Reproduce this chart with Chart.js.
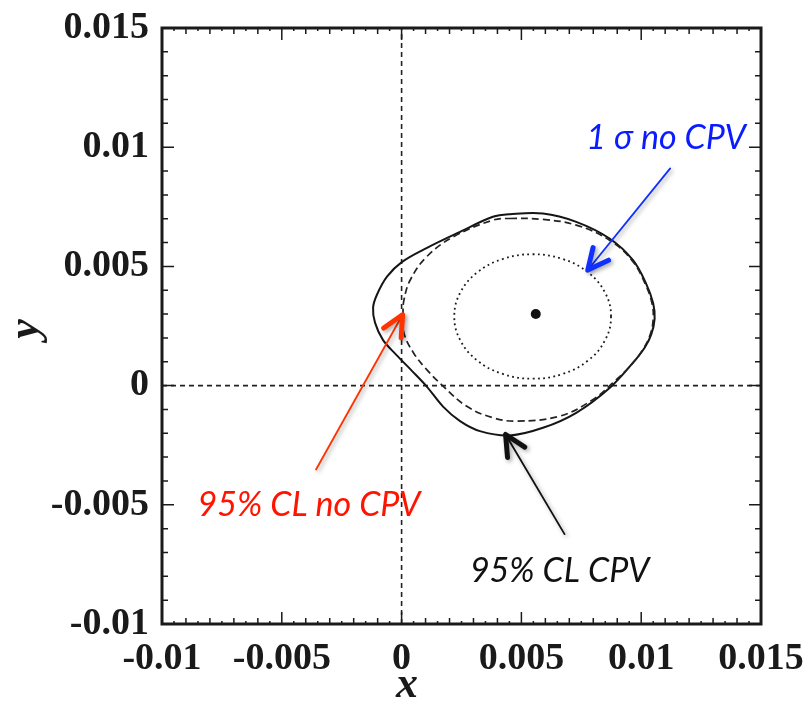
<!DOCTYPE html>
<html>
<head>
<meta charset="utf-8">
<script src="https://cdn.jsdelivr.net/npm/chart.js@4.4.1/dist/chart.umd.min.js"></script>
<style>
  html, body { margin: 0; padding: 0; background: #fff; }
  #wrap { width: 808px; height: 727px; }
</style>
</head>
<body>
<div id="wrap"><canvas id="myChart" width="808" height="727"></canvas></div>
<script>
// axis ticks
const xTicks = [-0.01, -0.005, 0, 0.005, 0.01, 0.015];
const xTickLabels = ['-0.01', '-0.005', '0', '0.005', '0.01', '0.015'];
const yTicks = [-0.01, -0.005, 0, 0.005, 0.01, 0.015];
const yTickLabels = ['-0.01', '-0.005', '0', '0.005', '0.01', '0.015'];

// 95% CL contour with CPV (solid)
const cpvX = [0.00452, 0.00590, 0.00729, 0.00868, 0.00965, 0.01020, 0.01050, 0.01056, 0.01042, 0.01015,
              0.00965, 0.00868, 0.00729, 0.00590, 0.00452, 0.00327, 0.00244, 0.00173, 0.00106, 0.00043,
              -0.00023, -0.00078, -0.00111, -0.00119, -0.00103, -0.00061, 0.00002, 0.00106, 0.00244, 0.00381];
const cpvY = [0.00719, 0.00722, 0.00687, 0.00617, 0.00527, 0.00429, 0.00345, 0.00280, 0.00215, 0.00160,
              0.00095, -0.00010, -0.00114, -0.00177, -0.00209, -0.00191, -0.00149, -0.00088, -0.00005, 0.00062,
              0.00130, 0.00192, 0.00264, 0.00327, 0.00381, 0.00457, 0.00519, 0.00578, 0.00645, 0.00708];

// 95% CL contour, no CPV (dashed)
const noCpvX = [0.00452, 0.00590, 0.00729, 0.00868, 0.00963, 0.01017, 0.01045, 0.01050, 0.01038, 0.01012,
                0.00963, 0.00881, 0.00798, 0.00660, 0.00480, 0.00382, 0.00272, 0.00174, 0.00105, 0.00050,
                0.00010, 0.00006, 0.00010, 0.00036, 0.00105, 0.00216, 0.00381];
const noCpvY = [0.00701, 0.00697, 0.00673, 0.00610, 0.00523, 0.00426, 0.00345, 0.00280, 0.00215, 0.00160,
                0.00092, 0.00011, -0.00059, -0.00128, -0.00149, -0.00135, -0.00087, -0.00003, 0.00067, 0.00137,
                0.00220, 0.00304, 0.00360, 0.00443, 0.00541, 0.00624, 0.00694];

// 1 sigma contour, no CPV (dotted)
const sigmaX = [0.00874, 0.00849, 0.00778, 0.00672, 0.00547, 0.00422, 0.00316, 0.00245,
                0.00220, 0.00245, 0.00316, 0.00422, 0.00547, 0.00672, 0.00778, 0.00849];
const sigmaY = [0.00290, 0.00390, 0.00475, 0.00531, 0.00551, 0.00531, 0.00475, 0.00390,
                0.00290, 0.00190, 0.00105, 0.00049, 0.00029, 0.00049, 0.00105, 0.00190];

// best fit
const bestX = [0.0056];
const bestY = [0.0030];

// arrows (tail -> tip) and their notes
const arrowFromX = [0.01121, -0.00357, 0.00680];
const arrowFromY = [0.00911, -0.00352, -0.00623];
const arrowToX = [0.00777, 0.00004, 0.00434];
const arrowToY = [0.00485, 0.00297, -0.00205];
const arrowColors = ['#1030ff', '#ff3300', '#111111'];

const noteText = ['1 \u03c3 no CPV', '95% CL no CPV', '95% CL CPV'];
const noteX = [0.00771, -0.00852, 0.00285];
const noteY = [0.00991, -0.00548, -0.00824];
const noteColors = ['#0a1cff', '#ff1400', '#111111'];

function toPoints(xs, ys) {
  return xs.map((x, i) => ({ x: x, y: ys[i] }));
}

// join the last point of a contour back to the first one with a smooth curve
const closeLoops = {
  id: 'closeLoops',
  afterDatasetsUpdate(chart) {
    chart.data.datasets.forEach((ds, i) => {
      if (!ds.closed) return;
      const line = chart.getDatasetMeta(i).dataset;
      line._loop = true;
      line._fullLoop = true;
      delete line._segments;
      delete line._path;
    });
  }
};

function drawArrow(ctx, x1, y1, x2, y2, color) {
  const ang = Math.atan2(y2 - y1, x2 - x1);
  const head = 23, spread = 0.45;
  ctx.strokeStyle = color;
  ctx.lineCap = 'round';
  ctx.lineJoin = 'round';
  ctx.lineWidth = 1.8;
  ctx.beginPath();
  ctx.moveTo(x1, y1);
  ctx.lineTo(x2, y2);
  ctx.stroke();
  ctx.lineWidth = 5;
  ctx.beginPath();
  ctx.moveTo(x2 - head * Math.cos(ang - spread), y2 - head * Math.sin(ang - spread));
  ctx.lineTo(x2, y2);
  ctx.lineTo(x2 - head * Math.cos(ang + spread), y2 - head * Math.sin(ang + spread));
  ctx.stroke();
}

// frame, inward ticks, arrows, notes and axis titles
const frame = {
  id: 'frame',
  afterDatasetsDraw(chart) {
    const ctx = chart.ctx;
    const { left, right, top, bottom } = chart.chartArea;
    const xs = chart.scales.x, ys = chart.scales.y;

    ctx.save();
    ctx.strokeStyle = '#1a1a1a';
    ctx.lineWidth = 1.5;
    ctx.beginPath();
    for (let i = -20; i <= 30; i++) {
      const px = xs.getPixelForValue(i * 0.0005);
      const len = Math.abs(i) % 10 === 0 ? 12 : (Math.abs(i) % 2 === 0 ? 6 : 3);
      ctx.moveTo(px, bottom); ctx.lineTo(px, bottom - len);
      ctx.moveTo(px, top); ctx.lineTo(px, top + len);
    }
    for (let j = -10; j <= 15; j++) {
      const py = ys.getPixelForValue(j * 0.001);
      const len = Math.abs(j) % 5 === 0 ? 12 : 6;
      ctx.moveTo(left, py); ctx.lineTo(left + len, py);
      ctx.moveTo(right, py); ctx.lineTo(right - len, py);
    }
    ctx.stroke();
    ctx.lineWidth = 3;
    ctx.strokeRect(left, top, right - left, bottom - top);
    ctx.restore();

    // arrows with a soft shadow
    ctx.save();
    ctx.shadowColor = 'rgba(0,0,0,0.35)';
    ctx.shadowBlur = 4;
    ctx.shadowOffsetX = 2;
    ctx.shadowOffsetY = 2;
    for (let k = 0; k < arrowFromX.length; k++) {
      drawArrow(ctx,
        xs.getPixelForValue(arrowFromX[k]), ys.getPixelForValue(arrowFromY[k]),
        xs.getPixelForValue(arrowToX[k]), ys.getPixelForValue(arrowToY[k]),
        arrowColors[k]);
    }
    ctx.restore();

    ctx.save();
    ctx.font = 'italic 34px Lato';
    ctx.textAlign = 'left';
    ctx.textBaseline = 'alphabetic';
    for (let k = 0; k < noteText.length; k++) {
      ctx.fillStyle = noteColors[k];
      ctx.fillText(noteText[k], xs.getPixelForValue(noteX[k]), ys.getPixelForValue(noteY[k]));
    }
    ctx.restore();

    // axis titles
    ctx.save();
    ctx.fillStyle = '#1a1a1a';
    ctx.font = 'italic bold 44px "Liberation Serif"';
    ctx.textAlign = 'center';
    ctx.textBaseline = 'alphabetic';
    ctx.fillText('x', 407, 697);
    ctx.translate(38, 329);
    ctx.rotate(-Math.PI / 2);
    ctx.fillText('y', 0, 0);
    ctx.restore();
  }
};

// keep the label overhang from shrinking the plot box
function noOverhang(s) {
  s.paddingTop = 0;
  s.paddingBottom = 0;
  s.paddingLeft = 0;
  s.paddingRight = 0;
}

const tickFont = { family: '"Liberation Serif"', weight: 'bold', size: 38 };

// setup
const data = {
  datasets: [
    {
      data: toPoints(bestX, bestY),
      showLine: false,
      pointRadius: 5,
      pointBackgroundColor: '#111',
      pointBorderWidth: 0,
      order: 0
    },
    {
      data: toPoints(sigmaX, sigmaY),
      closed: true,
      borderColor: '#1a1a1a',
      borderWidth: 1.8,
      borderDash: [1.8, 3.4],
      tension: 0.4,
      pointRadius: 0,
      order: 1
    },
    {
      data: toPoints(noCpvX, noCpvY),
      closed: true,
      borderColor: '#222',
      borderWidth: 1.7,
      borderDash: [7, 4],
      tension: 0.4,
      pointRadius: 0,
      order: 2
    },
    {
      data: toPoints(cpvX, cpvY),
      closed: true,
      borderColor: '#151515',
      borderWidth: 2,
      tension: 0.35,
      pointRadius: 0,
      order: 3
    },
    {
      data: toPoints([0, 0], [-0.01, 0.015]),
      borderColor: '#222',
      borderWidth: 1.6,
      borderDash: [5, 4],
      pointRadius: 0,
      order: 5
    },
    {
      data: toPoints([-0.01, 0.015], [0, 0]),
      borderColor: '#222',
      borderWidth: 1.6,
      borderDash: [5, 4],
      pointRadius: 0,
      order: 5
    }
  ]
};

// config
const config = {
  type: 'line',
  data,
  options: {
    responsive: false,
    animation: false,
    events: [],
    layout: { padding: { top: 28, right: 47, left: 0, bottom: 0 } },
    plugins: { legend: { display: false }, tooltip: { enabled: false } },
    scales: {
      x: {
        type: 'linear',
        min: -0.01,
        max: 0.015,
        grid: { display: false, drawTicks: false },
        border: { display: false },
        afterBuildTicks: s => { s.ticks = xTicks.map(v => ({ value: v })); },
        afterFit: s => { s.height = 103; noOverhang(s); },
        ticks: {
          padding: 12,
          color: '#1a1a1a',
          font: tickFont,
          maxRotation: 0,
          autoSkip: false,
          callback: (v, i) => xTickLabels[i]
        }
      },
      y: {
        type: 'linear',
        min: -0.01,
        max: 0.015,
        grid: { display: false, drawTicks: false },
        border: { display: false },
        afterBuildTicks: s => { s.ticks = yTicks.map(v => ({ value: v })); },
        afterFit: s => { s.width = 162; noOverhang(s); },
        ticks: {
          padding: 13,
          color: '#1a1a1a',
          font: tickFont,
          autoSkip: false,
          callback: (v, i) => yTickLabels[i]
        }
      }
    }
  },
  plugins: [closeLoops, frame]
};

// render init block
const myChart = new Chart(document.getElementById('myChart'), config);
</script>
</body>
</html>
